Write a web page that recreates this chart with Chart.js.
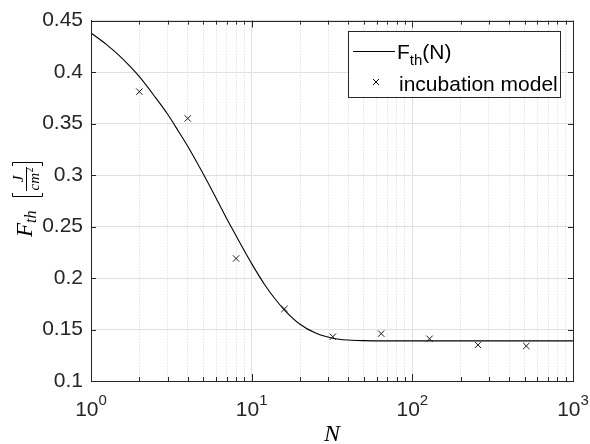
<!DOCTYPE html>
<html>
<head>
<meta charset="utf-8">
<script src="https://cdn.jsdelivr.net/npm/chart.js@4.4.1/dist/chart.umd.min.js"></script>
<style>
  html, body { margin: 0; padding: 0; background: #fff; }
  canvas { display: block; }
</style>
</head>
<body>
<canvas id="chart" width="590" height="444"></canvas>
<script>
// F_th(N) curve, values
const curveN = [1, 1.25, 1.5, 1.75, 2, 2.5, 3, 3.5, 4, 5, 6, 7, 8, 9, 10, 12, 14, 16, 20, 25, 32, 40, 50, 64, 100, 200, 1000];
const curveF = [0.438, 0.4267, 0.416, 0.4055, 0.3955, 0.376, 0.359, 0.3426, 0.328, 0.301, 0.2777, 0.2575, 0.241, 0.2265, 0.214, 0.194, 0.1796, 0.1689, 0.1551, 0.1465, 0.1416, 0.1398, 0.1392, 0.139, 0.139, 0.139, 0.139];

// incubation model points
const modelN = [2, 4, 8, 16, 32, 64, 128, 256, 512];
const modelF = [0.381, 0.355, 0.219, 0.170, 0.143, 0.146, 0.141, 0.135, 0.134];

const yTicks = [0.1, 0.15, 0.2, 0.25, 0.3, 0.35, 0.4, 0.45];
const yTickLabels = ['0.1', '0.15', '0.2', '0.25', '0.3', '0.35', '0.4', '0.45'];
const xDecades = [1, 10, 100, 1000];
const xDecadeExp = ['0', '1', '2', '3'];

const axisColor = '#262626';
const sans = '"Liberation Sans", Arial, sans-serif';
const serif = '"Liberation Serif", "Times New Roman", serif';

// log ticks 1..9 per decade, major at powers of ten
const xTicks = [];
for (let d = 0; d < xDecades.length - 1; d++) {
    for (let m = 1; m <= 9; m++) xTicks.push({ value: m * xDecades[d], major: m === 1 });
}
xTicks.push({ value: xDecades[xDecades.length - 1], major: true });

const framePlugin = {
    id: 'frame',
    beforeDraw(chart) {
        const ctx = chart.ctx;
        ctx.save();
        ctx.fillStyle = '#fff';
        ctx.fillRect(0, 0, chart.width, chart.height);
        ctx.restore();
    },
    afterDraw(chart) {
        const { ctx, chartArea: a, scales: { x, y } } = chart;
        ctx.save();
        ctx.strokeStyle = axisColor;
        ctx.lineWidth = 1;

        // inward tick marks on all four sides
        ctx.beginPath();
        x.ticks.forEach(t => {
            const px = Math.round(x.getPixelForValue(t.value)) + 0.5;
            const len = t.major ? 7 : 4;
            ctx.moveTo(px, a.bottom); ctx.lineTo(px, a.bottom - len);
            ctx.moveTo(px, a.top); ctx.lineTo(px, a.top + len);
        });
        y.ticks.forEach(t => {
            const py = Math.round(y.getPixelForValue(t.value)) + 0.5;
            ctx.moveTo(a.left, py); ctx.lineTo(a.left + 5, py);
            ctx.moveTo(a.right, py); ctx.lineTo(a.right - 5, py);
        });
        ctx.stroke();
        ctx.strokeRect(Math.round(a.left) + 0.5, Math.round(a.top) + 0.5,
            Math.round(a.right - a.left), Math.round(a.bottom - a.top));

        // x tick labels 10^k
        ctx.fillStyle = axisColor;
        ctx.textBaseline = 'alphabetic';
        ctx.textAlign = 'left';
        xDecades.forEach((v, i) => {
            const px = x.getPixelForValue(v);
            ctx.font = '21px ' + sans;
            const w1 = ctx.measureText('10').width;
            ctx.font = '15px ' + sans;
            const w2 = ctx.measureText(xDecadeExp[i]).width;
            const left = px - (w1 + w2) / 2;
            ctx.font = '21px ' + sans;
            ctx.fillText('10', left, 416);
            ctx.font = '15px ' + sans;
            ctx.fillText(xDecadeExp[i], left + w1, 405);
        });

        // x axis title
        ctx.fillStyle = '#000';
        ctx.textAlign = 'center';
        ctx.font = 'italic 24px ' + serif;
        ctx.fillText('N', 332, 441);

        // y axis title: F_th [J / cm^2]
        ctx.save();
        ctx.translate(32, 201);
        ctx.rotate(-Math.PI / 2);
        ctx.textAlign = 'left';
        ctx.font = 'italic 23px ' + serif;
        ctx.fillText('F', -36, 0);
        const FW = ctx.measureText('F').width;
        ctx.font = 'italic 16px ' + serif;
        ctx.fillText('th', -36 + FW, 4);
        ctx.lineWidth = 1;
        ctx.strokeStyle = '#000';
        ctx.beginPath();
        ctx.moveTo(8, -19.5); ctx.lineTo(4.5, -19.5); ctx.lineTo(4.5, 10.5); ctx.lineTo(8, 10.5);
        ctx.moveTo(35, -19.5); ctx.lineTo(38.5, -19.5); ctx.lineTo(38.5, 10.5); ctx.lineTo(35, 10.5);
        ctx.moveTo(10, -5.5); ctx.lineTo(34, -5.5);
        ctx.stroke();
        ctx.textAlign = 'center';
        ctx.font = 'italic 15px ' + serif;
        ctx.fillText('J', 22, -9);
        ctx.textAlign = 'left';
        ctx.fillText('cm', 10.5, 7);
        const cmW = ctx.measureText('cm').width;
        ctx.font = '10px ' + serif;
        ctx.fillText('2', 10.5 + cmW + 0.5, 0.5);
        ctx.restore();

        // legend
        const lx = 348.5, ly = 31.5, lw = 212, lh = 66;
        ctx.fillStyle = '#fff';
        ctx.fillRect(lx, ly, lw, lh);
        ctx.strokeStyle = axisColor;
        ctx.strokeRect(lx, ly, lw, lh);
        ctx.strokeStyle = '#000';
        ctx.lineWidth = 1.2;
        ctx.beginPath();
        ctx.moveTo(353, 51.5); ctx.lineTo(395, 51.5);
        ctx.stroke();
        ctx.lineWidth = 1;
        ctx.beginPath();
        ctx.moveTo(373, 79); ctx.lineTo(379, 85);
        ctx.moveTo(379, 79); ctx.lineTo(373, 85);
        ctx.stroke();
        ctx.fillStyle = '#000';
        ctx.textAlign = 'left';
        ctx.font = '21px ' + sans;
        ctx.fillText('F', 397, 59);
        const fW = ctx.measureText('F').width;
        ctx.font = '15px ' + sans;
        ctx.fillText('th', 397 + fW, 65);
        const thW = ctx.measureText('th').width;
        ctx.font = '21px ' + sans;
        ctx.fillText('(N)', 397 + fW + thW, 59);
        ctx.fillText('incubation model', 399, 91);

        ctx.restore();
    }
};

new Chart(document.getElementById('chart'), {
    type: 'scatter',
    data: {
        datasets: [
            {
                label: 'F_th(N)',
                data: curveN.map((n, i) => ({ x: n, y: curveF[i] })),
                showLine: true,
                pointRadius: 0,
                borderColor: '#000',
                borderWidth: 1.1,
                cubicInterpolationMode: 'monotone',
                order: 2
            },
            {
                label: 'incubation model',
                data: modelN.map((n, i) => ({ x: n, y: modelF[i] })),
                showLine: false,
                pointStyle: 'crossRot',
                pointRadius: 4.5,
                borderColor: '#1a1a1a',
                borderWidth: 1,
                order: 1
            }
        ]
    },
    options: {
        responsive: false,
        animation: false,
        devicePixelRatio: 1,
        layout: { padding: { top: 19, right: 17, left: 0, bottom: 0 } },
        plugins: {
            legend: { display: false },
            tooltip: { enabled: false }
        },
        scales: {
            x: {
                type: 'logarithmic',
                min: 1,
                max: 1000,
                afterBuildTicks: scale => { scale.ticks = xTicks.map(t => ({ ...t })); },
                afterFit: scale => { scale.height = 63; },
                ticks: { display: false },
                grid: {
                    drawTicks: false,
                    color: ctx => (ctx.tick && ctx.tick.major) ? '#e0e0e0' : '#d6d6d6',
                    lineWidth: 1
                },
                border: {
                    color: axisColor,
                    width: 1,
                    dash: ctx => (ctx.tick && !ctx.tick.major) ? [1, 2] : []
                }
            },
            y: {
                type: 'linear',
                min: 0.1,
                max: 0.45,
                afterBuildTicks: scale => { scale.ticks = yTicks.map(v => ({ value: v })); },
                afterFit: scale => { scale.width = 91; },
                ticks: {
                    padding: 8,
                    color: axisColor,
                    font: { family: sans, size: 21 },
                    callback: (v, i) => yTickLabels[i]
                },
                grid: { drawTicks: false, color: '#e0e0e0', lineWidth: 1 },
                border: { color: axisColor, width: 1 }
            }
        }
    },
    plugins: [framePlugin]
});
</script>
</body>
</html>
